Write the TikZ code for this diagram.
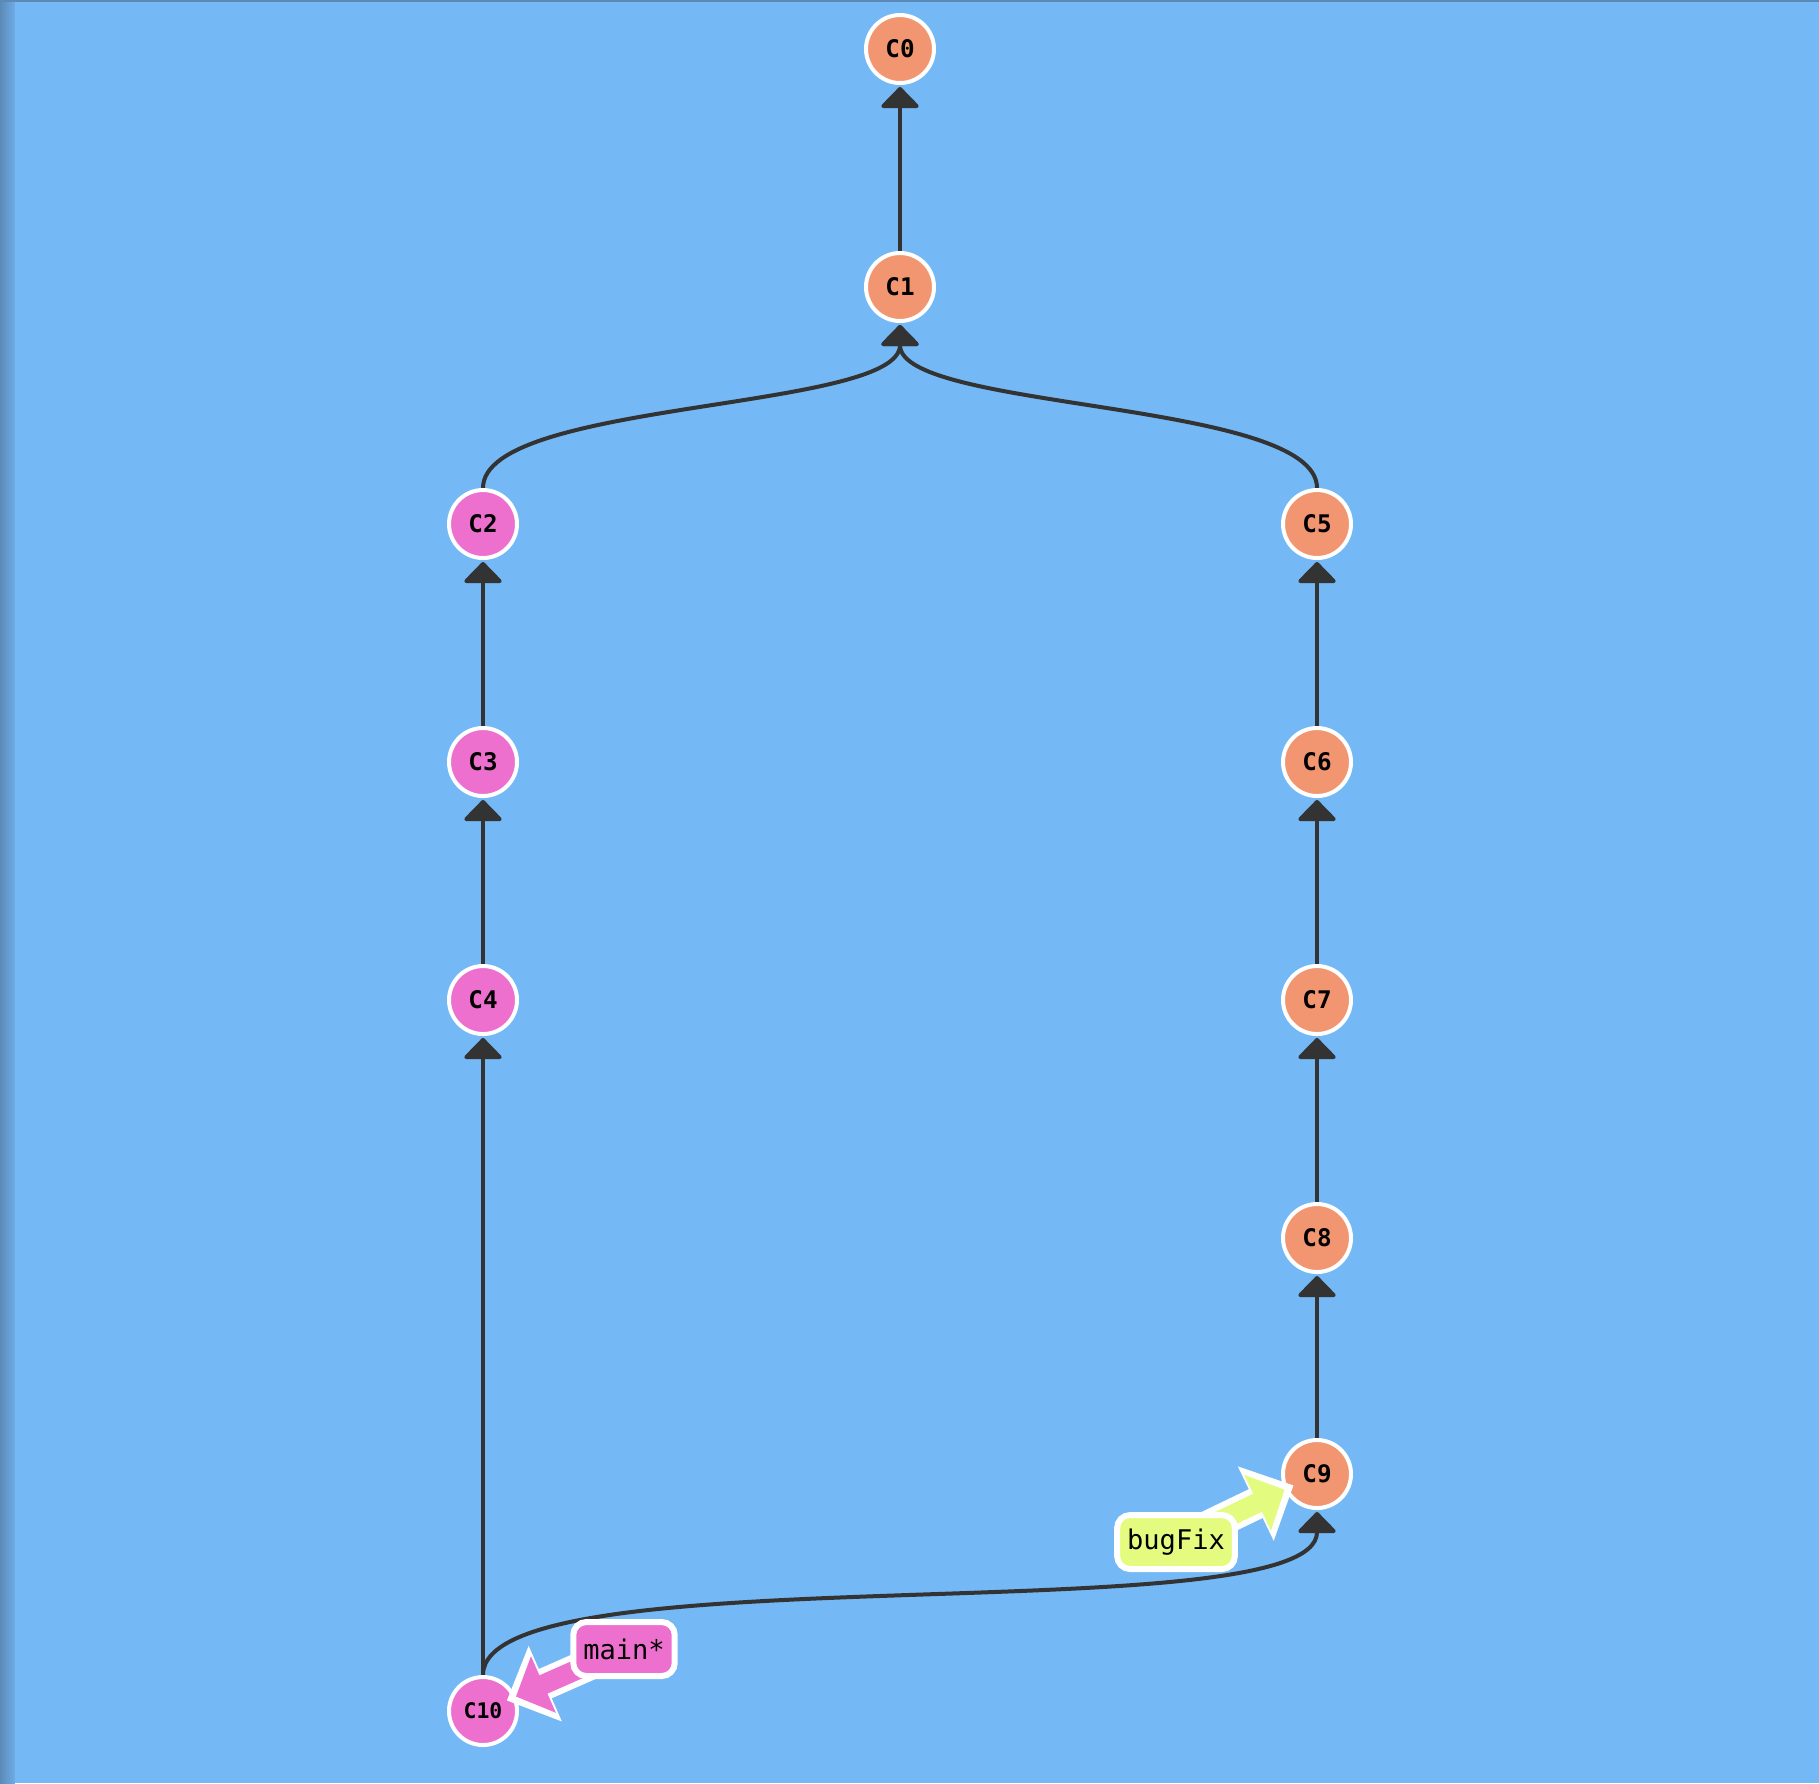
\documentclass[tikz,border=0pt]{standalone}
\usepackage{fontspec}
\setmonofont{DejaVu Sans Mono}
\usetikzlibrary{arrows.meta}

\definecolor{gitbg}{RGB}{116,184,245}
\definecolor{gitshade}{RGB}{92,138,184}
\definecolor{gitshadeend}{RGB}{110,172,230}
\definecolor{gitedge}{RGB}{51,51,51}
\definecolor{mainpink}{RGB}{237,112,207}
\definecolor{fixorange}{RGB}{241,150,112}
\definecolor{fixyellow}{RGB}{227,252,128}

\pgfdeclarelayer{background}
\pgfdeclarelayer{edges}
\pgfdeclarelayer{pointers}
\pgfdeclarelayer{tags}
\pgfsetlayers{background,edges,main,pointers,tags}

\begin{document}
\begin{tikzpicture}[
	commit/.style={draw=white, circle, line width=0.04cm, minimum size=0.68cm, inner sep=0pt,
		font=\fontsize{6.9}{8}\selectfont\ttfamily\bfseries},
	onmain/.style={commit, fill=mainpink},
	onfix/.style={commit, fill=fixorange},
	tag/.style={draw=white, line width=0.06cm, rounded corners=0.13cm, inner xsep=0.1cm, inner ysep=0pt,
		minimum height=0.54cm, font=\fontsize{7.7}{9}\selectfont\ttfamily},
	edge/.style={draw=gitedge, line width=0.04cm, shorten >=0.02cm,
		-{Triangle[width=0.42cm, length=0.22cm, round]}},
	tagrim/.style={draw=white, line width=0.32cm, shorten >=0.26cm,
		-{Triangle[width=0.8cm, length=0.42cm]}},
	tagarrow/.style={line width=0.2cm, shorten >=0.36cm,
		-{Triangle[width=0.6cm, length=0.3cm]}}]

	% page
	\begin{pgfonlayer}{background}
		\fill[gitbg] (0,0) rectangle (18.19,-17.83);
		\shade[left color=gitshade, right color=gitshadeend] (0,0) rectangle (0.15,-17.83);
		\fill[gitshade] (0,0) rectangle (18.19,-0.015);
	\end{pgfonlayer}

	% commits
	\node[onfix]  (C0)  at ( 9.00, -0.49) {C0};
	\node[onfix]  (C1)  at ( 9.00, -2.87) {C1};
	\node[onmain] (C2)  at ( 4.83, -5.24) {C2};
	\node[onmain] (C3)  at ( 4.83, -7.62) {C3};
	\node[onmain] (C4)  at ( 4.83,-10.00) {C4};
	\node[onfix]  (C5)  at (13.17, -5.24) {C5};
	\node[onfix]  (C6)  at (13.17, -7.62) {C6};
	\node[onfix]  (C7)  at (13.17,-10.00) {C7};
	\node[onfix]  (C8)  at (13.17,-12.38) {C8};
	\node[onfix]  (C9)  at (13.17,-14.74) {C9};
	\node[onmain, font=\fontsize{6.1}{7}\selectfont\ttfamily\bfseries] (C10) at (4.83,-17.11) {C10};

	% branch tags
	\begin{pgfonlayer}{tags}
		\node[tag, fill=mainpink]  (mainTag) at ( 6.24,-16.49) {main*};
		\node[tag, fill=fixyellow] (bugTag)  at (11.76,-15.42) {bugFix};
	\end{pgfonlayer}

	% parent links
	\begin{pgfonlayer}{edges}
		\draw[edge] (C1) -- (C0);
		\draw[edge] (C2.north) .. controls +(0,0.88) and +(0,-0.88) .. (C1.south);
		\draw[edge] (C5.north) .. controls +(0,0.88) and +(0,-0.88) .. (C1.south);
		\draw[edge] (C3) -- (C2);
		\draw[edge] (C4) -- (C3);
		\draw[edge] (C10) -- (C4);
		\draw[edge] (C6) -- (C5);
		\draw[edge] (C7) -- (C6);
		\draw[edge] (C8) -- (C7);
		\draw[edge] (C9) -- (C8);
		\draw[edge] (C10.north) .. controls +(0,1.25) and +(0,-1.25) .. (C9.south);
	\end{pgfonlayer}

	% tag pointers
	\begin{pgfonlayer}{pointers}
		\draw[tagrim] (mainTag.center) -- (C10.center);
		\draw[tagarrow, draw=mainpink, fill=mainpink] (mainTag.center) -- (C10.center);
		\draw[tagrim] (bugTag.center) -- (C9.center);
		\draw[tagarrow, draw=fixyellow, fill=fixyellow] (bugTag.center) -- (C9.center);
	\end{pgfonlayer}
\end{tikzpicture}
\end{document}
